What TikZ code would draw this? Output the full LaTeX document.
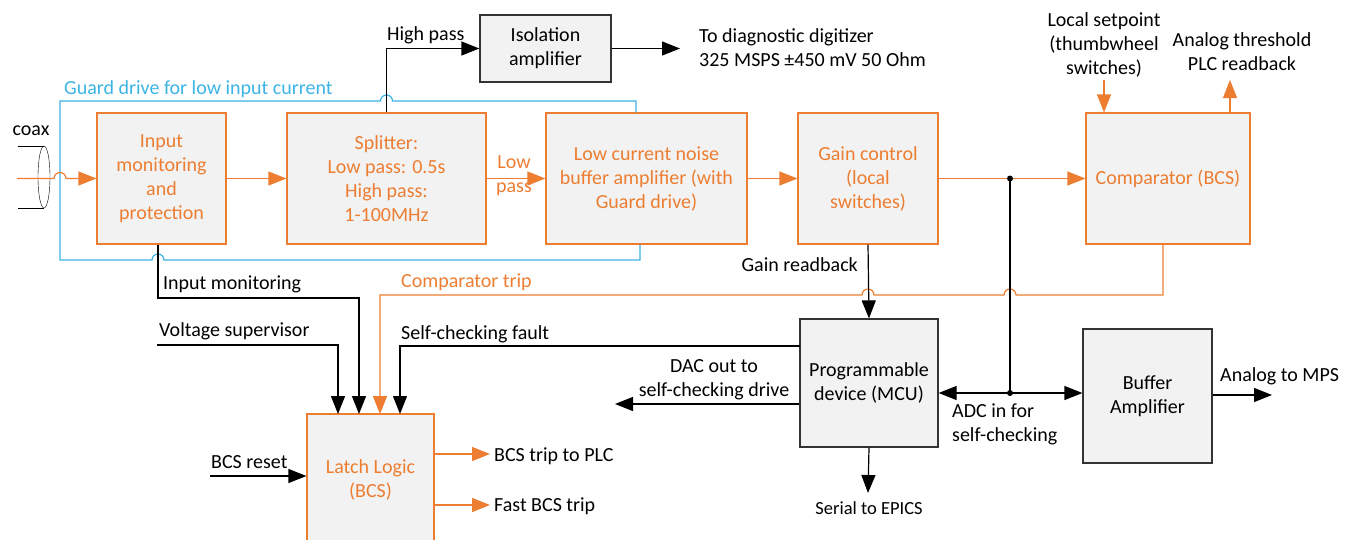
\documentclass[tikz,border=0pt]{standalone}
\usepackage{fontspec}
\setmainfont{Carlito}
\usepackage{tikz}
\usetikzlibrary{arrows.meta}
\definecolor{boxorange}{HTML}{ED7D31}
\definecolor{guardblue}{HTML}{3BB4E6}
\definecolor{boxgray}{HTML}{F2F2F2}
\tikzset{
  box/.style 2 args={draw=boxorange, fill=boxgray, text=boxorange, align=center,
    line width=1.2pt, inner sep=2pt, minimum width=#1, minimum height=#2},
  graybox/.style 2 args={draw=black!80, fill=boxgray, text=black, align=center,
    line width=1.2pt, inner sep=2pt, minimum width=#1, minimum height=#2},
  lbl/.style={inner sep=2pt, align=left},
  barr/.style={line width=1.2pt, -{Triangle[length=18pt,width=14pt]}},
  oarr/.style={line width=1.2pt, draw=boxorange, -{Triangle[length=18pt,width=14pt]}},
  guard/.style={line width=1.2pt, draw=guardblue},
}
\begin{document}
\begin{tikzpicture}[x=1pt, y=1pt, font=\fontsize{20}{24}\selectfont]
        \useasboundingbox (0,0) rectangle (1364,-539);
        % boxes of the signal chain
        \node[box={129pt}{131pt}] (inmon) at (161.5,-178.5) {Input\\monitoring\\and\\protection};
        \node[box={199pt}{131pt}] (split) at (386.5,-178.5) {Splitter:\\Low pass: 0.5s\\High pass:\\1-100MHz};
        \node[box={201pt}{131pt}] (buf) at (646.5,-178.5) {Low current noise\\buffer amplifier (with\\Guard drive)};
        \node[box={140pt}{131pt}] (gain) at (868,-178.5) {Gain control\\(local\\switches)};
        \node[box={164pt}{131pt}] (comp) at (1168,-178.5) {Comparator (BCS)};
        % latch box runs past the lower edge
        \node[box={127pt}{132pt}] (latch) at (370.5,-480) {Latch Logic\\(BCS)};
        % boxes with dark border
        \node[graybox={131pt}{67pt}] (iso) at (545.5,-48.5) {Isolation\\amplifier};
        \node[graybox={138pt}{128pt}] (mcu) at (869,-383) {Programmable\\device (MCU)};
        \node[graybox={129pt}{134pt}] (bufamp) at (1147.5,-396) {Buffer\\Amplifier};
        % fixed points
        \coordinate (j1) at (1010,-178.5);
        \coordinate (j2) at (1010,-393);
        \coordinate (lin1) at (338,-414);
        \coordinate (lin2) at (359,-414);
        \coordinate (lin3) at (380,-414);
        \coordinate (lin4) at (400,-414);
        \coordinate (imx) at (158,-298);
        \coordinate (vs) at (157,-345);
        \coordinate (scf) at (800,-346);
        \coordinate (ctbend) at (1163,-295);
        \coordinate (gtr) at (636,-101);
        \coordinate (gbr) at (640,-260);
        \coordinate (rbtip) at (1230,-80);
        \coordinate (digout) at (680,-48.5);
        \coordinate (dacend) at (615,-404);
        \coordinate (serend) at (868,-493);
        \coordinate (mps) at (1272,-395);
        \coordinate (rst) at (210,-476);
        \coordinate (trip1) at (490,-454);
        \coordinate (trip2) at (490,-505);
        \coordinate (coaxin) at (17,-178.5);
        % coax
        \node (coax) at (31,-131) {coax};
        \draw (18,-146) -- (44,-146) (18,-208) -- (44,-208);
        \draw (44,-177) ellipse [x radius=6pt, y radius=31pt];
        % guard drive loop
        \draw[guard] (buf.north -| gtr) -- (gtr) -- (392.5,-101) arc[start angle=0, end angle=180, radius=6pt]
            -- (60,-101) -- (60,-260) -- (152,-260) arc[start angle=180, end angle=0, radius=6pt]
            -- (gbr) -- (buf.south -| gbr);
        \node[lbl, anchor=west, text=guardblue] (guardlbl) at (62,-89) {Guard drive for low input current};
        % signal chain
        \draw[oarr] (coaxin) -- (54,-178.5) arc[start angle=180, end angle=0, radius=6pt] -- (inmon.west);
        \draw[oarr] (inmon.east) -- (split.west);
        \draw[oarr] (split.east) -- (buf.west);
        \node[lbl, align=center, text=boxorange] (lowpass) at (514,-176) {Low\\pass};
        \draw[oarr] (buf.east) -- (gain.west);
        \draw[oarr] (gain.east) -- (comp.west);
        % high pass branch
        \draw[barr] (split.north) |- (iso.west);
        \node[lbl, anchor=west] (hplbl) at (385,-35) {High pass};
        \draw[barr] (iso.east) -- (digout);
        \node[lbl, anchor=west] (digtxt) at (697,-48) {To diagnostic digitizer\\325 MSPS ±450 mV 50 Ohm};
        % comparator in and out
        \node[lbl, align=center] (setp) at (1104,-45) {Local setpoint\\(thumbwheel\\switches)};
        \draw[oarr] (setp.south) -- (setp.south |- comp.north);
        \node[lbl, align=center] (plcrb) at (1242,-52) {Analog threshold\\PLC readback};
        \draw[oarr] (comp.north -| rbtip) -- (rbtip);
        % inputs of the latch
        \draw[barr] (inmon.south -| imx) -- (imx) -| (lin2);
        \node[lbl, anchor=west] (imlbl) at (161,-284) {Input monitoring};
        \draw[barr] (vs) -| (lin1);
        \node[lbl, anchor=west] (vslbl) at (157,-331) {Voltage supervisor};
        \draw[oarr] (comp.south -| ctbend) -- (ctbend) -- (1016,-295) arc[start angle=0, end angle=180, radius=6pt]
            -- (874,-295) arc[start angle=0, end angle=180, radius=6pt] -| (lin3);
        \node[lbl, anchor=west, text=boxorange] (ctlbl) at (399,-282) {Comparator trip};
        \draw[barr] (scf) -| (lin4);
        \node[lbl, anchor=west] (scflbl) at (399,-334) {Self-checking fault};
        \draw[barr] (rst) -- (rst -| latch.west);
        \node[lbl, anchor=west] (rstlbl) at (209,-462) {BCS reset};
        % outputs of the latch
        \draw[oarr] (trip1 -| latch.east) -- (trip1);
        \node[lbl, anchor=west] (trip1lbl) at (492,-456) {BCS trip to PLC};
        \draw[oarr] (trip2 -| latch.east) -- (trip2);
        \node[lbl, anchor=west] (trip2lbl) at (492,-506) {Fast BCS trip};
        % programmable device
        \draw[barr] (gain.south) -- (mcu.north);
        \node[lbl, anchor=east] (grlbl) at (860,-265) {Gain readback};
        \draw[barr] (mcu.west |- dacend) -- (dacend);
        \node[lbl, align=center] (daclbl) at (714,-380) {DAC out to\\self-checking drive};
        \draw[barr] (mcu.south) -- (serend);
        \node[lbl, font=\fontsize{18.5}{22}\selectfont] (serlbl) at (869,-508) {Serial to EPICS};
        % analog tap for self-checking
        \draw[line width=1.2pt] (j1) -- (j2);
        \draw[barr] (j2) -- (mcu.east |- j2);
        \draw[barr] (j2) -- (bufamp.west |- j2);
        \fill (j1) circle (3pt) (j2) circle (3pt);
        \node[lbl, anchor=west] (adclbl) at (950,-424) {ADC in for\\self-checking};
        \draw[barr] (bufamp.east |- mps) -- (mps);
        \node[lbl, anchor=west] (mpslbl) at (1218,-376) {Analog to MPS};
\end{tikzpicture}
\end{document}
